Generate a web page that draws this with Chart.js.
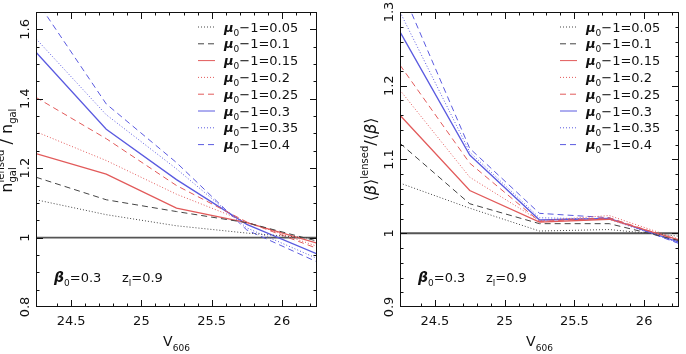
<!DOCTYPE html>
<html>
<head>
<meta charset="utf-8">
<script src="https://cdn.jsdelivr.net/npm/chart.js@4"></script>
<style>
  html, body { margin: 0; padding: 0; background: #fff; }
  #wrap { position: relative; width: 686px; height: 354px; }
  canvas { position: absolute; top: 0; }
</style>
</head>
<body>
<div id="wrap">
  <canvas id="left" width="343" height="354" style="left:0"></canvas>
  <canvas id="right" width="343" height="354" style="left:343px"></canvas>
</div>
<script>
// magnitude bins (V606)
const vMag = [24.25, 24.75, 25.25, 25.75, 26.25];
const muLabels = ["0.05", "0.1", "0.15", "0.2", "0.25", "0.3", "0.35", "0.4"];

// left panel: n_gal^lensed / n_gal
const nRatio005 = [1.109, 1.066, 1.034, 1.013, 0.997];
const nRatio010 = [1.174, 1.109, 1.075, 1.043, 0.99];
const nRatio015 = [1.242, 1.183, 1.085, 1.043, 0.984];
const nRatio020 = [1.305, 1.222, 1.125, 1.045, 0.975];
const nRatio025 = [1.404, 1.285, 1.15, 1.045, 0.969];
const nRatio030 = [1.534, 1.312, 1.167, 1.038, 0.953];
const nRatio035 = [1.573, 1.354, 1.198, 1.028, 0.94];
const nRatio040 = [1.685, 1.385, 1.216, 1.022, 0.93];

// right panel: <beta>^lensed / <beta>
const beta005 = [1.068, 1.034, 1.003, 1.005, 0.996];
const beta010 = [1.122, 1.040, 1.013, 1.013, 0.99];
const beta015 = [1.160, 1.058, 1.015, 1.019, 0.991];
const beta020 = [1.194, 1.076, 1.017, 1.024, 0.992];
const beta025 = [1.228, 1.095, 1.016, 1.021, 0.99];
const beta030 = [1.273, 1.106, 1.018, 1.020, 0.988];
const beta035 = [1.300, 1.110, 1.021, 1.019, 0.987];
const beta040 = [1.335, 1.115, 1.027, 1.021, 0.986];

const unityLine = [1, 1];
const xTicks = [24.5, 25, 25.5, 26];

const GRAY = "#444";
const RED = "#e25a5a";
const BLUE = "#5a5ae0";
const styles = [
  { color: GRAY, dash: [1, 2], width: 1 },
  { color: GRAY, dash: [6, 4], width: 1 },
  { color: RED, dash: [], width: 1.3 },
  { color: RED, dash: [1, 2], width: 1 },
  { color: RED, dash: [6, 4], width: 1 },
  { color: BLUE, dash: [], width: 1.3 },
  { color: BLUE, dash: [1, 2], width: 1 },
  { color: BLUE, dash: [6, 4], width: 1 },
];

const FONT = "DejaVu Sans";

// draw a row of text pieces (sub/superscripts) starting at x, baseline y
function richWidth(ctx, parts) {
  let w = 0;
  parts.forEach((p) => {
    ctx.font = p.font;
    const pw = ctx.measureText(p.t).width;
    if (!p.stack) w += pw;
  });
  return w;
}
function drawRich(ctx, parts, x, y) {
  let cx = x;
  let stackW = 0;
  parts.forEach((p) => {
    ctx.font = p.font;
    const w = ctx.measureText(p.t).width;
    if (p.stack) {
      // drawn at same x as previous piece
      ctx.fillText(p.t, cx - stackW, y + (p.dy || 0));
      const extra = w - stackW;
      if (extra > 0) cx += extra;
      stackW = 0;
    } else {
      ctx.fillText(p.t, cx, y + (p.dy || 0));
      cx += w;
      stackW = w;
    }
  });
}

function muParts(label) {
  return [
    { t: "μ", font: `bold italic 13px ${FONT}` },
    { t: "0", font: `9px ${FONT}`, dy: 4 },
    { t: "−1=" + label, font: `13px ${FONT}` },
  ];
}

function makePanel(id, series, yMin, yMax, yMajor, yMinorStep, pad, cfg) {
  const datasets = series.map((vals, i) => ({
    label: "μ0−1=" + muLabels[i],
    data: vals.map((v, j) => ({ x: vMag[j], y: v })),
    borderColor: styles[i].color,
    borderDash: styles[i].dash,
    borderWidth: styles[i].width,
    pointRadius: 0,
    tension: 0,
    fill: false,
  }));
  datasets.push({
    label: "unity",
    data: unityLine.map((v, j) => ({ x: j === 0 ? vMag[0] : vMag[vMag.length - 1], y: v })),
    borderColor: "#555",
    borderWidth: 1.8,
    pointRadius: 0,
  });

  const axesPlugin = {
    id: "pgAxes",
    afterDraw(chart) {
      const ctx = chart.ctx;
      const a = chart.chartArea;
      const xs = chart.scales.x;
      const ys = chart.scales.y;
      ctx.save();
      ctx.strokeStyle = "#111";
      ctx.lineWidth = 1;
      ctx.setLineDash([]);
      ctx.strokeRect(a.left + 0.5, a.top + 0.5, a.right - a.left - 1, a.bottom - a.top - 1);

      // x ticks
      ctx.beginPath();
      for (let k = Math.round(vMag[0] * 10) + 1; k < Math.round(vMag[vMag.length - 1] * 10); k++) {
        const v = k / 10;
        const major = k % 5 === 0;
        const len = major ? 7 : 3.5;
        const px = Math.round(xs.getPixelForValue(v)) + 0.5;
        ctx.moveTo(px, a.bottom);
        ctx.lineTo(px, a.bottom - len);
        ctx.moveTo(px, a.top);
        ctx.lineTo(px, a.top + len);
      }
      // y ticks
      const nSteps = Math.round((yMax - yMin) / yMinorStep);
      for (let k = 1; k < nSteps + 1; k++) {
        const v = yMin + k * yMinorStep;
        if (v > yMax + 1e-9) break;
        const r = (v - yMin) / yMajor;
        const major = Math.abs(r - Math.round(r)) < 1e-6;
        const len = major ? 7 : 3.5;
        const py = Math.round(ys.getPixelForValue(v)) + 0.5;
        ctx.moveTo(a.left, py);
        ctx.lineTo(a.left + len, py);
        ctx.moveTo(a.right, py);
        ctx.lineTo(a.right - len, py);
      }
      ctx.stroke();

      ctx.fillStyle = "#111";
      // x tick labels
      ctx.font = `13px ${FONT}`;
      ctx.textAlign = "center";
      ctx.textBaseline = "alphabetic";
      xTicks.forEach((v) => {
        ctx.fillText(String(v), xs.getPixelForValue(v), a.bottom + 18);
      });
      // y tick labels (rotated)
      for (let v = yMin; v <= yMax + 1e-9; v += yMajor) {
        const val = Math.round(v * 100) / 100;
        let py = ys.getPixelForValue(val);
        ctx.save();
        ctx.font = `13px ${FONT}`;
        const w = ctx.measureText(String(val)).width;
        py = Math.min(py, a.bottom + 0);
        if (py - w / 2 < 0) py = w / 2 + 1;
        ctx.translate(a.left - 7, py);
        ctx.rotate(-Math.PI / 2);
        ctx.textAlign = "center";
        ctx.fillText(String(val), 0, 0);
        ctx.restore();
      }

      // x axis title
      ctx.textAlign = "left";
      const xTitle = [
        { t: "V", font: `14px ${FONT}` },
        { t: "606", font: `9px ${FONT}`, dy: 5 },
      ];
      ctx.font = `14px ${FONT}`;
      const xtw = richWidth(ctx, xTitle);
      drawRich(ctx, xTitle, (a.left + a.right) / 2 - xtw / 2, a.bottom + 39);

      // y axis title
      ctx.save();
      const ytw = richWidth(ctx, cfg.yTitle);
      ctx.translate(cfg.yTitleX, (a.top + a.bottom) / 2);
      ctx.rotate(-Math.PI / 2);
      drawRich(ctx, cfg.yTitle, -ytw / 2, 0);
      ctx.restore();

      // legend
      muLabels.forEach((m, i) => {
        const yy = 27 + i * 16.8;
        ctx.save();
        ctx.strokeStyle = styles[i].color;
        ctx.lineWidth = 1;
        ctx.setLineDash(styles[i].dash);
        ctx.beginPath();
        ctx.moveTo(cfg.legendX - 26, yy);
        ctx.lineTo(cfg.legendX - 9, yy);
        ctx.stroke();
        ctx.restore();
        drawRich(ctx, muParts(m), cfg.legendX, yy + 4.5);
      });

      // annotation
      drawRich(ctx, [
        { t: "β", font: `bold italic 14px ${FONT}` },
        { t: "0", font: `9px ${FONT}`, dy: 4 },
        { t: "=0.3", font: `13px ${FONT}` },
      ], a.left + 18, 282);
      drawRich(ctx, [
        { t: "z", font: `13px ${FONT}` },
        { t: "l", font: `9px ${FONT}`, dy: 4 },
        { t: "=0.9", font: `13px ${FONT}` },
      ], a.left + 86, 282);
      ctx.restore();
    },
  };

  new Chart(document.getElementById(id), {
    type: "line",
    data: { datasets },
    options: {
      responsive: false,
      animation: false,
      layout: { padding: pad },
      plugins: { legend: { display: false }, tooltip: { enabled: false } },
      scales: {
        x: { type: "linear", min: vMag[0], max: vMag[vMag.length - 1], display: false },
        y: { type: "linear", min: yMin, max: yMax, display: false },
      },
    },
    plugins: [axesPlugin],
  });
}

makePanel(
  "left",
  [nRatio005, nRatio010, nRatio015, nRatio020, nRatio025, nRatio030, nRatio035, nRatio040],
  0.8, 1.65, 0.2, 0.05,
  { left: 36, top: 12, right: 26, bottom: 47 },
  {
    legendX: 224,
    yTitleX: 12,
    yTitle: [
      { t: "n", font: `16px ${FONT}` },
      { t: "gal", font: `10px ${FONT}`, dy: 4 },
      { t: "lensed", font: `10px ${FONT}`, dy: -8, stack: true },
      { t: " / n", font: `16px ${FONT}` },
      { t: "gal", font: `10px ${FONT}`, dy: 4 },
    ],
  }
);

makePanel(
  "right",
  [beta005, beta010, beta015, beta020, beta025, beta030, beta035, beta040],
  0.9, 1.3, 0.1, 0.02,
  { left: 57, top: 12, right: 7, bottom: 47 },
  {
    legendX: 243,
    yTitleX: 33,
    yTitle: [
      { t: "⟨", font: `16px ${FONT}` },
      { t: "β", font: `italic 16px ${FONT}` },
      { t: "⟩", font: `16px ${FONT}` },
      { t: "lensed", font: `10px ${FONT}`, dy: -8 },
      { t: "/", font: `16px ${FONT}` },
      { t: "⟨", font: `16px ${FONT}` },
      { t: "β", font: `italic 16px ${FONT}` },
      { t: "⟩", font: `16px ${FONT}` },
    ],
  }
);
</script>
</body>
</html>
